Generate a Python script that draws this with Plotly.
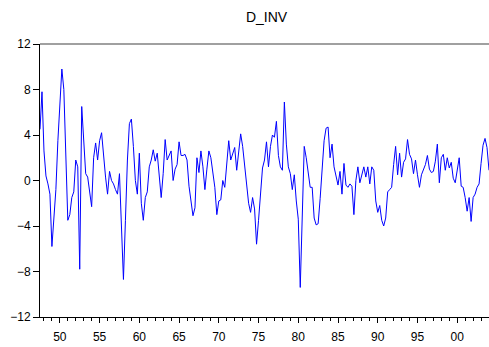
import plotly.graph_objects as go

# Quarterly series D_INV, 1947Q3 onward
start_year, start_quarter = 1947, 3
d_inv = [
    4.5, 7.8, 2.6, 0.4, -0.3, -1.2, -5.8, -3.0, -0.8, 3.5,
    6.5, 9.8, 8.0, 1.5, -3.5, -3.0, -1.5, -1.0, 1.8, 1.2,
    -7.8, 6.5, 3.0, 0.6, 0.3, -1.3, -2.3, 2.0, 3.3, 1.8,
    3.5, 4.2, 2.0, 0.3, -1.2, 0.8, 0.0, -0.3, -0.8, -1.2,
    0.6, -4.5, -8.7, -3.5, 1.8, 5.0, 5.4, 3.0, 0.0, -1.2,
    2.4, -2.0, -3.5, -1.5, -1.0, 1.2, 1.8, 2.7, 1.7, 2.4,
    0.3, -1.5, 0.6, 3.6, 1.8, 2.3, 2.6, 0.0, 1.0, 1.4,
    3.4, 2.2, 2.2, 2.3, 1.8, -0.5, -2.0, -3.1, -2.4, 2.0,
    0.7, 2.6, 1.2, -0.8, 1.0, 2.6, 2.0, 0.4, -0.6, -3.0,
    -1.8, -1.7, 0.0, -0.6, 1.8, 3.5, 1.8, 2.3, 2.9, 0.9,
    2.6, 4.1, 3.0, 1.2, 0.0, -2.0, -2.8, -1.5, -2.5, -5.6,
    -3.5, -1.0, 1.1, 1.8, 3.4, 1.2, 3.0, 4.0, 3.8, 5.2,
    2.2, 1.2, 0.9, 6.9, 3.2, 1.2, 0.6, -0.8, 0.5, -1.8,
    -3.4, -9.4, -2.5, 3.0, 2.0, 0.5, -0.6, -0.6, -3.3, -3.9,
    -3.8, -1.6, 1.2, 3.5, 4.6, 4.7, 2.0, 3.2, 1.2, 0.5,
    -0.4, 0.8, -1.2, 1.5, -0.4, -0.6, -0.3, -0.5, -3.0, 0.0,
    1.2, -0.2, 0.6, 1.2, 0.3, 1.2, -0.3, 1.2, 0.9, -1.8,
    -2.8, -2.2, -3.5, -4.0, -3.3, -1.0, -0.8, -0.6, 1.4, 3.0,
    0.5, 2.4, 0.3, 1.6, 1.9, 3.6, 2.3, 1.9, 0.6, 1.8,
    0.5, -0.6, 0.5, 1.0, 1.4, 2.2, 1.0, 0.7, 0.8, 1.7,
    3.2, -0.2, 2.0, 2.3, 0.9, 2.0, 1.1, 1.6, 0.2, -0.2,
    1.0, 2.0, -0.5, -0.6, -1.5, -2.7, -1.5, -3.6, -1.5, -1.2,
    -0.6, -0.3, 1.5, 3.1, 3.7, 2.9, 0.9,
]

# Time index in fractional years (Q1 sits on the year tick)
t0 = start_year + (start_quarter - 1) / 4
t = [t0 + i / 4 for i in range(len(d_inv))]

year_ticks = list(range(1950, 2001, 5))
year_labels = ["50", "55", "60", "65", "70", "75", "80", "85", "90", "95", "00"]
minor_years = list(range(1948, 2004))
y_ticks = [-12, -8, -4, 0, 4, 8, 12]

fig = go.Figure()
fig.add_trace(go.Scatter(
    x=t, y=d_inv, mode="lines",
    line=dict(color="#0000FF", width=1),
    hoverinfo="skip",
))

font = dict(family="Liberation Sans, Arial, sans-serif", size=12, color="#000000")

fig.update_layout(
    width=489, height=347,
    margin=dict(l=40, r=0, t=44, b=30),
    paper_bgcolor="white", plot_bgcolor="white",
    showlegend=False,
    font=font,
    title=dict(text="D_INV", x=0.545, xanchor="center", y=0.95, yanchor="middle",
               font=dict(family="Liberation Sans, Arial, sans-serif", size=14, color="#000000")),
    xaxis=dict(
        range=[t0, 2004.0],
        tickmode="array", tickvals=year_ticks, ticktext=year_labels,
        ticks="outside", ticklen=5, tickcolor="#000000", tickwidth=1,
        ticklabelstandoff=4,
        minor=dict(tickmode="array", tickvals=minor_years, ticks="outside",
                   ticklen=3, tickcolor="#000000", tickwidth=1),
        showline=True, linecolor="#000000", linewidth=1,
        showgrid=False, zeroline=False,
    ),
    yaxis=dict(
        range=[-12, 12],
        tickmode="array", tickvals=y_ticks,
        ticks="outside", ticklen=6, tickcolor="#000000", tickwidth=1,
        showline=True, linecolor="#000000", linewidth=1,
        showgrid=False, zeroline=False,
    ),
    shapes=[dict(type="line", xref="paper", yref="paper", x0=0, x1=1, y0=1, y1=1,
                 line=dict(color="#808080", width=1.5))],
)

fig.write_html("out.html")
